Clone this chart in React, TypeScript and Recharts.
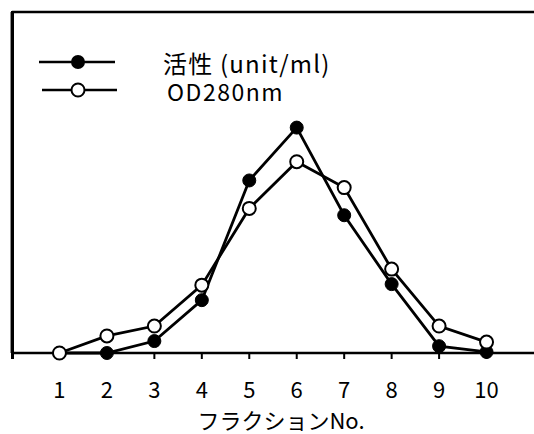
import React from 'react';
import { LineChart, Line, XAxis, YAxis, ReferenceLine } from 'recharts';

const fractions = [1, 2, 3, 4, 5, 6, 7, 8, 9, 10];
const tickLabels = ['', '1', '2', '3', '4', '5', '6', '7', '8', '9', '10'];
const activity = [0, 0, 3.5, 15.5, 50.6, 66.1, 40.4, 20.2, 2.0, 0.3];
const od280 = [0, 5.0, 7.9, 19.9, 42.4, 56.1, 48.5, 24.6, 7.9, 3.2];
const seriesNames = ['活性 (unit/ml)', 'OD280nm'];
const xAxisTitle = 'フラクションNo.';

const data = fractions.map((x, i) => ({ x, activity: activity[i], od: od280[i] }));

const FONT = '"Noto Sans CJK JP", "Noto Sans", sans-serif';

const LegendOverlay = () => (
  <svg width={420} height={110} style={{ position: 'absolute', left: 0, top: 0, display: 'block', fontFamily: FONT, pointerEvents: 'none' }}>
    <line x1={39} y1={62} x2={115} y2={62} stroke="#000" strokeWidth={2.5} />
    <circle cx={78} cy={62} r={7} fill="#000" />
    <text x={163} y={62} dominantBaseline="central" fontSize={24} letterSpacing={1.2} fill="#000">{seriesNames[0]}</text>
    <line x1={42} y1={90} x2={117} y2={90} stroke="#000" strokeWidth={2.5} />
    <circle cx={78} cy={90} r={6.5} fill="#fff" stroke="#000" strokeWidth={2} />
    <text x={167} y={91} dominantBaseline="central" fontSize={23} letterSpacing={1.5} fill="#000">{seriesNames[1]}</text>
  </svg>
);

export default function App() {
  return (
    <div style={{ position: 'absolute', left: 0, top: 0, width: 534, height: 434, background: '#fff' }}>
      <LineChart width={534} height={434} data={data} margin={{ top: 12, right: 0, left: 0, bottom: 0 }}
        style={{ fontFamily: FONT }}>
        <XAxis
          dataKey="x"
          type="number"
          domain={[0, 11]}
          ticks={[0, 1, 2, 3, 4, 5, 6, 7, 8, 9, 10]}
          tickFormatter={(v: number) => tickLabels[v]}
          height={81}
          tickSize={6}
          tickMargin={23}
          axisLine={{ stroke: '#000', strokeWidth: 2.5 }}
          tickLine={{ stroke: '#000', strokeWidth: 2 }}
          tick={{ fill: '#000', fontSize: 22, fontFamily: FONT }}
          label={{ value: xAxisTitle, position: 'insideBottom', offset: 5, dx: 8, fill: '#000', fontSize: 22, fontFamily: FONT }}
          interval={0}
        />
        <YAxis
          type="number"
          domain={[0, 100]}
          width={12}
          tick={false}
          tickLine={false}
          axisLine={{ stroke: '#000', strokeWidth: 2.5 }}
        />
        <ReferenceLine y={100} stroke="#000" strokeWidth={2.5} ifOverflow="visible" />
        <ReferenceLine x={0} stroke="#000" strokeWidth={2.5} ifOverflow="visible" />
        <Line dataKey="activity" name={seriesNames[0]} stroke="#000" strokeWidth={2.8}
          dot={{ r: 6.5, fill: '#000', stroke: '#000', strokeWidth: 1 }} isAnimationActive={false} />
        <Line dataKey="od" name={seriesNames[1]} stroke="#000" strokeWidth={2.8}
          dot={{ r: 6.5, fill: '#fff', stroke: '#000', strokeWidth: 2 }} isAnimationActive={false} />
      </LineChart>
      <div style={{ position: 'absolute', left: 11, top: 11, width: 2.5, height: 348, background: '#000' }} />
      <LegendOverlay />
    </div>
  );
}
